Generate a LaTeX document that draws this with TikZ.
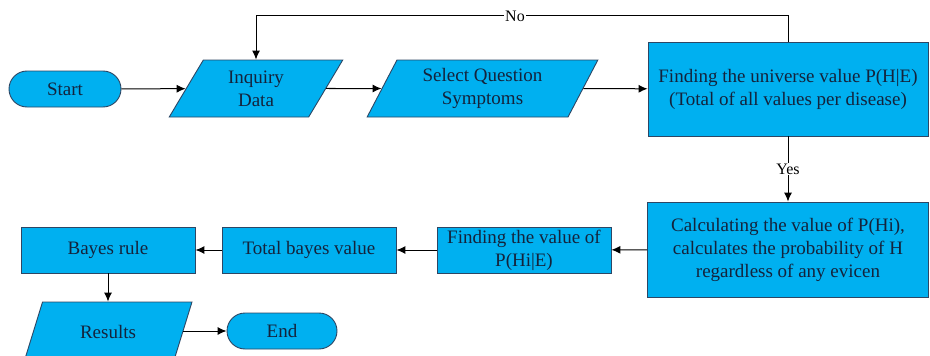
\documentclass[tikz,border=0pt]{standalone}
\usepackage{fontspec}
\setmainfont{Liberation Serif}
\newfontfamily\timesfont{Liberation Serif}
\usepackage{tikz}
\usetikzlibrary{arrows.meta,shapes.geometric}
\definecolor{boxfill}{RGB}{0, 176, 240}
\definecolor{boxline}{RGB}{45, 70, 100}
\definecolor{boxtext}{RGB}{20, 35, 60}

\begin{document}
\begin{tikzpicture}[x=1pt, y=-1pt,
    base/.style={draw=boxline, fill=boxfill, line width=0.9pt,
                 text=boxtext, align=center, inner sep=2pt,
                 font=\timesfont\fontsize{19}{23}\selectfont},
    term/.style={base, rectangle, rounded corners=18pt,
                 minimum height=36pt},
    io/.style={base, trapezium, trapezium left angle=64,
               trapezium right angle=116, trapezium stretches=true,
               minimum height=57pt},
    proc/.style={base, rectangle},
    lbl/.style={fill=white, inner sep=1pt,
                font=\timesfont\fontsize{16}{18}\selectfont},
    arr/.style={-{Latex[length=9pt,width=8pt]}, line width=1pt}]

    \useasboundingbox (0,0) rectangle (930,356);

    \node[term, minimum width=112pt] (start) at (65,89)    {Start};
    \node[io,   minimum width=174pt] (inquiry) at (256,88.5) {Inquiry\\Data};
    \node[io,   minimum width=231pt] (select) at (482.5,88.5) {Select Question\\Symptoms};
    \node[proc, minimum width=280pt, minimum height=94pt] (universe) at (788,89)
        {Finding the universe value P(H|E)\\(Total of all values per disease)};
    \node[proc, minimum width=281pt, minimum height=95pt] (calc) at (788,249.5)
        {Calculating the value of P(Hi),\\calculates the probability of H\\regardless of any evicen};
    \node[proc, minimum width=174pt, minimum height=46pt] (findval) at (524,250)
        {Finding the value of\\P(Hi|E)};
    \node[proc, minimum width=174pt, minimum height=46pt] (total) at (309,250) {Total bayes value};
    \node[proc, minimum width=174pt, minimum height=46pt] (bayes) at (108,250) {Bayes rule};
    \node[io,   minimum width=168pt, minimum height=60pt] (results) at (108,332) {Results};
    \node[term, minimum width=110pt] (stop) at (282,331)   {End};

    \draw[arr] (start)   -- (inquiry);
    \draw[arr] (inquiry) -- (select);
    \draw[arr] (select)  -- (universe);
    \draw[arr] (universe) -- node[lbl] {Yes} (calc);
    \draw[arr] (calc)    -- (findval);
    \draw[arr] (findval) -- (total);
    \draw[arr] (total)   -- (bayes);
    \draw[arr] (bayes)   -- (results);
    \draw[arr] (results.east |- stop) -- (stop);

    \draw[arr] (universe.north) -- ++(0,-26) coordinate (loop)
        -| (inquiry.north);
    \node[lbl] (no) at (515,16) {No};

\end{tikzpicture}
\end{document}
